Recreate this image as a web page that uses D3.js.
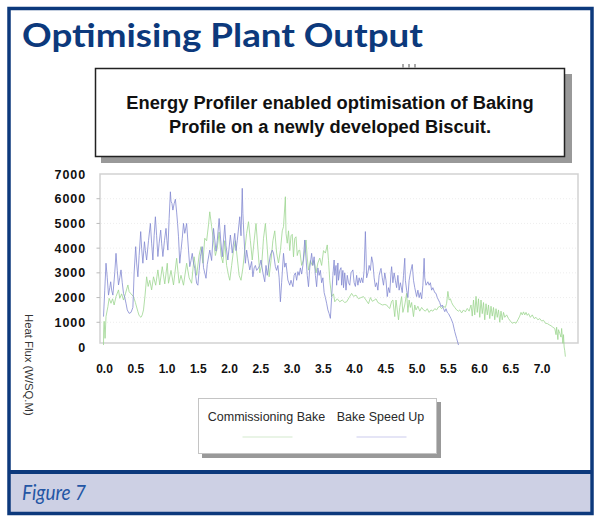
<!DOCTYPE html>
<html><head><meta charset="utf-8">
<script src="https://cdn.jsdelivr.net/npm/d3@7"></script>
<style>body{margin:0;background:#fff}svg{display:block}</style>
</head><body><svg id="c" width="600" height="522"></svg>
<script>
// ---------- data ----------
const titleText = "Optimising Plant Output";
const boxLines = ["Energy Profiler enabled optimisation of Baking", "Profile on a newly developed Biscuit."];
const yAxisTitle = "Heat Flux (W/SQ.M)";
const caption = "Figure 7";
const seriesNames = ["Commissioning Bake", "Bake Speed Up"];
const yTicks = [0, 1000, 2000, 3000, 4000, 5000, 6000, 7000];
const xTicks = [0, 0.5, 1, 1.5, 2, 2.5, 3, 3.5, 4, 4.5, 5, 5.5, 6, 6.5, 7];

// Commissioning Bake (green)
const commissioningX = [0,0.003,0.01,0.025,0.04,0.07,0.09,0.12,0.145,0.17,0.2,0.24,0.26,0.29,0.32,0.35,0.39,0.41,0.44,0.48,0.51,0.55,0.57,0.6,0.62,0.64,0.665,0.69,0.715,0.74,0.77,0.8,0.835,0.87,0.9,0.94,0.98,1.02,1.04,1.08,1.12,1.17,1.21,1.24,1.28,1.33,1.37,1.41,1.45,1.49,1.53,1.56,1.59,1.62,1.65,1.68,1.7,1.73,1.76,1.79,1.82,1.85,1.88,1.91,1.94,1.97,2,2.02,2.05,2.08,2.11,2.14,2.17,2.2,2.23,2.26,2.29,2.32,2.35,2.38,2.41,2.44,2.47,2.5,2.53,2.56,2.59,2.62,2.65,2.68,2.71,2.74,2.77,2.8,2.83,2.86,2.88,2.91,2.92,2.94,2.96,2.98,3,3.02,3.04,3.06,3.08,3.1,3.12,3.14,3.17,3.2,3.24,3.26,3.28,3.31,3.34,3.37,3.4,3.43,3.46,3.49,3.52,3.55,3.58,3.6,3.62,3.65,3.68,3.7,3.74,3.78,3.82,3.86,3.89,3.93,3.97,4,4.04,4.08,4.12,4.16,4.2,4.24,4.27,4.3,4.33,4.36,4.39,4.42,4.46,4.5,4.53,4.56,4.58,4.61,4.63,4.66,4.68,4.7,4.72,4.74,4.77,4.79,4.82,4.85,4.87,4.89,4.91,4.93,4.96,4.98,5,5.03,5.06,5.09,5.12,5.15,5.18,5.21,5.24,5.27,5.3,5.33,5.36,5.38,5.41,5.44,5.47,5.49,5.51,5.53,5.55,5.57,5.59,5.62,5.65,5.68,5.7,5.73,5.76,5.79,5.82,5.85,5.88,5.9,5.92,5.94,5.96,5.98,6,6.02,6.04,6.06,6.08,6.1,6.12,6.14,6.16,6.18,6.2,6.22,6.24,6.26,6.28,6.3,6.32,6.34,6.36,6.38,6.4,6.42,6.45,6.48,6.51,6.54,6.57,6.6,6.63,6.66,6.68,6.7,6.72,6.74,6.76,6.78,6.8,6.83,6.86,6.89,6.92,6.95,6.98,7.01,7.04,7.07,7.1,7.13,7.16,7.19,7.22,7.24,7.25,7.27,7.28,7.3,7.32,7.33,7.35,7.36,7.37,7.38,7.39];
const commissioningY = [80,690,1040,350,1230,1630,1970,1770,1950,1700,2040,2310,1970,2150,1900,2150,2510,2240,2150,2040,1800,1430,1270,1200,1300,1500,2100,2840,2450,2700,2310,2840,2500,3120,2510,3250,2550,3390,2580,3100,2510,3590,2580,2900,2500,3390,2800,2580,3650,2900,3720,4060,3390,4400,4300,4940,5470,4870,4300,3700,4000,4650,3700,3400,4300,3300,2900,2700,3300,3900,4300,3600,2900,2700,3200,3900,4600,5070,4300,3520,4300,5000,4000,3000,3300,4400,5000,4000,2840,3500,4300,4700,3800,3400,3900,4700,4870,6080,4600,4200,4700,3900,4500,4560,3650,4400,4460,3700,3900,3920,3300,3520,4330,3600,3110,3500,3300,3500,3000,3400,3600,3300,3900,3800,4130,3500,2700,2040,2150,1830,1950,1830,1900,1800,1830,2000,2170,2050,2100,1950,2000,2040,1900,1750,2000,1850,1890,1950,1800,1760,1700,1720,1700,1600,1560,1850,1900,1230,1900,1500,1100,1600,2040,1400,1700,2170,1400,1900,1600,1800,1230,1700,1500,1650,1450,1600,1500,1450,1550,1400,1500,1450,1550,1500,1620,1640,1550,1650,1600,1770,2250,1900,1950,1800,1700,1600,1500,1450,1500,1380,1500,1420,1560,1450,1700,1250,1900,1300,2050,1400,1950,1200,1900,1350,1800,1100,1750,1300,1700,1150,1650,1250,1600,1100,1550,1200,1500,1000,1450,1100,1400,1200,1300,1150,1050,960,1000,960,1100,1250,1400,1300,1420,1300,1400,1280,1350,1200,1300,1150,1200,1100,1150,1050,1080,960,950,900,860,800,750,500,800,300,700,550,400,750,150,500,0,-150,-390];

// Bake Speed Up (blue)
const speedUpX = [0,0.02,0.04,0.06,0.08,0.1,0.115,0.13,0.15,0.18,0.2,0.22,0.24,0.26,0.28,0.3,0.32,0.34,0.36,0.38,0.41,0.44,0.47,0.49,0.515,0.53,0.55,0.57,0.595,0.61,0.63,0.655,0.67,0.69,0.72,0.75,0.77,0.79,0.81,0.83,0.85,0.87,0.89,0.915,0.93,0.95,0.975,1,1.015,1.03,1.05,1.07,1.08,1.095,1.11,1.13,1.15,1.17,1.185,1.2,1.22,1.24,1.26,1.28,1.3,1.33,1.36,1.38,1.4,1.42,1.44,1.46,1.49,1.51,1.53,1.55,1.58,1.6,1.64,1.66,1.7,1.73,1.76,1.8,1.82,1.85,1.875,1.9,1.94,1.96,1.99,2.03,2.06,2.1,2.12,2.14,2.18,2.2,2.22,2.23,2.25,2.27,2.29,2.31,2.34,2.37,2.39,2.41,2.43,2.45,2.48,2.5,2.52,2.55,2.58,2.6,2.62,2.65,2.67,2.7,2.72,2.75,2.77,2.79,2.81,2.83,2.85,2.88,2.9,2.92,2.95,2.98,3,3.03,3.05,3.07,3.09,3.11,3.13,3.15,3.17,3.19,3.22,3.24,3.26,3.28,3.3,3.33,3.35,3.37,3.39,3.41,3.43,3.45,3.47,3.49,3.51,3.53,3.55,3.57,3.59,3.61,3.63,3.65,3.67,3.69,3.7,3.72,3.73,3.75,3.76,3.78,3.8,3.81,3.83,3.84,3.86,3.88,3.9,3.92,3.94,3.96,3.99,4.01,4.03,4.05,4.07,4.09,4.11,4.13,4.15,4.17,4.19,4.2,4.21,4.23,4.25,4.27,4.29,4.31,4.33,4.35,4.37,4.39,4.41,4.43,4.44,4.46,4.48,4.5,4.52,4.54,4.56,4.58,4.6,4.61,4.63,4.65,4.67,4.69,4.71,4.73,4.75,4.78,4.8,4.82,4.83,4.85,4.87,4.89,4.91,4.94,4.96,4.98,5.01,5.03,5.05,5.07,5.09,5.11,5.13,5.14,5.16,5.19,5.21,5.23,5.25,5.27,5.3,5.32,5.34,5.36,5.38,5.4,5.42,5.44,5.46,5.48,5.5,5.52,5.54,5.56,5.59,5.62,5.65,5.68];
const speedUpY = [1230,2300,3390,2800,2100,2400,2640,2300,2100,3000,3790,3100,2510,2800,3120,2600,2170,2000,1770,1500,1360,1400,1600,3000,4060,3400,2840,3700,4670,4000,3390,4260,3900,3520,4300,5000,4200,3520,4500,5270,4500,3660,4200,4730,4200,3660,4300,4800,4300,3920,5200,6280,5900,5810,5540,5800,5980,5460,5000,4460,3390,3900,4400,5000,4600,5000,3920,3250,3500,3790,3400,3190,2580,2500,3100,3650,4060,3210,2780,3340,3920,3500,4800,3880,4300,5200,4330,3650,4940,4100,3520,4530,3800,4600,3900,4300,5270,4500,6420,5410,4330,3390,3920,3590,3120,3460,2840,3200,3300,3100,3200,3300,3520,3000,2640,3300,2900,3400,3720,3920,3800,3250,3100,3300,2800,1830,2600,3790,3230,3400,2710,2500,2700,2440,2900,3000,2700,3050,2900,3200,2950,3300,4330,3600,2900,2440,3200,3790,3300,3650,2900,2440,3200,2900,3100,2600,2800,2200,2000,1770,1500,1350,1160,2000,2900,3520,2900,3300,2500,3400,2700,3100,3210,2500,3100,2400,3000,2300,2900,2600,2500,3000,3120,2600,2450,2900,2500,2800,2600,2800,2600,3100,4670,3800,2800,3000,3300,3100,3650,3400,2800,2440,2600,2300,2900,3100,3180,2800,2500,3000,2700,2040,2400,2200,3000,3250,2600,3000,2700,2400,2900,2300,2600,2200,2900,3590,2700,2300,2000,2700,3000,3340,2700,2400,2040,2300,2000,2200,1950,2500,3590,2800,2500,2640,2500,2600,2300,2400,2200,2170,2000,1900,1800,1630,1700,1550,1430,1550,1400,1350,1250,1150,960,620,350,80];

// ---------- drawing ----------
const svg = d3.select("#c");
const navy = "#0c397c";
const x = d3.scaleLinear().domain([0, 7]).range([103.5, 541]);
const y = d3.scaleLinear().domain([0, 7000]).range([347, 174]);

// outer frame + caption band
svg.append("rect").attr("x", 0).attr("y", 0).attr("width", 600).attr("height", 522).attr("fill", "#fff");
svg.append("rect").attr("x", 10).attr("y", 472).attr("width", 580).attr("height", 41).attr("fill", "#cdd0e4");
svg.append("line").attr("x1", 9).attr("x2", 592).attr("y1", 472).attr("y2", 472).attr("stroke", navy).attr("stroke-width", 4);
svg.append("rect").attr("x", 9).attr("y", 8.5).attr("width", 583).attr("height", 505)
  .attr("fill", "none").attr("stroke", navy).attr("stroke-width", 3.5);

// title
svg.append("text").attr("x", 22).attr("y", 47).text(titleText)
  .attr("font-family", "Lato, 'Open Sans', sans-serif").attr("font-weight", 700).attr("font-size", 33)
  .attr("fill", navy).attr("textLength", 401).attr("lengthAdjust", "spacingAndGlyphs");

// tiny marks above the box
[403, 409, 415].forEach(px => svg.append("line").attr("x1", px).attr("x2", px).attr("y1", 64).attr("y2", 67.5)
  .attr("stroke", "#555").attr("stroke-width", 1));

// text box
svg.append("rect").attr("x", 101).attr("y", 74).attr("width", 471).attr("height", 89).attr("fill", "#999");
svg.append("rect").attr("x", 95.5).attr("y", 68.5).attr("width", 469).attr("height", 88)
  .attr("fill", "#fff").attr("stroke", "#222").attr("stroke-width", 1.5);
svg.selectAll("text.box").data(boxLines).join("text").attr("class", "box")
  .attr("x", 330).attr("y", (d, i) => 108.5 + i * 24.5).attr("text-anchor", "middle")
  .attr("font-family", "Arial, 'Liberation Sans', sans-serif").attr("font-weight", 700).attr("font-size", 18.3)
  .attr("fill", "#111").text(d => d);

// plot frame and faint grid
const g = svg.append("g");
g.selectAll("line.grid").data(yTicks.filter(v => v > 0 && v < 7000)).join("line").attr("class", "grid")
  .attr("x1", 101).attr("x2", 577).attr("y1", d => y(d)).attr("y2", d => y(d))
  .attr("stroke", "#e8e8e8").attr("stroke-width", 0.8).attr("stroke-dasharray", "1,2");
g.append("rect").attr("x", 100).attr("y", 174).attr("width", 478).attr("height", 169)
  .attr("fill", "none").attr("stroke", "#d2d2d2").attr("stroke-width", 1.5);
g.selectAll("line.ytick").data(yTicks.filter(v => v > 0 && v < 7000)).join("line").attr("class", "ytick")
  .attr("x1", 96.5).attr("x2", 100).attr("y1", d => y(d)).attr("y2", d => y(d))
  .attr("stroke", "#bbb").attr("stroke-width", 1);

// y labels
g.selectAll("text.ylab").data(yTicks).join("text").attr("class", "ylab")
  .attr("x", 86).attr("y", d => y(d) + 4.5).attr("text-anchor", "end")
  .attr("font-family", "Arial, 'Liberation Sans', sans-serif").attr("font-weight", 700).attr("font-size", 12.5)
  .attr("letter-spacing", 0.9).attr("fill", "#111").text(d => d);

// x labels
g.selectAll("text.xlab").data(xTicks).join("text").attr("class", "xlab")
  .attr("x", d => x(d) + 1).attr("y", 372.5).attr("text-anchor", "middle")
  .attr("font-family", "Arial, 'Liberation Sans', sans-serif").attr("font-weight", 700).attr("font-size", 12)
  .attr("fill", "#111").text(d => d.toFixed(1));

// y axis title
svg.append("text").attr("transform", "translate(25,314) rotate(90)").text(yAxisTitle)
  .attr("font-family", "Arial, 'Liberation Sans', sans-serif").attr("font-size", 11.3).attr("fill", "#333");

// series
const line = d3.line().x(d => x(d[0])).y(d => y(d[1]));
const greenPts = commissioningX.map((v, i) => [v, commissioningY[i]]);
const bluePts = speedUpX.map((v, i) => [v, speedUpY[i]]);
g.append("path").attr("d", line(greenPts)).attr("fill", "none")
  .attr("stroke", "#9dd690").attr("stroke-width", 0.8).attr("stroke-linejoin", "round");
g.append("path").attr("d", line(bluePts)).attr("fill", "none")
  .attr("stroke", "#8288d0").attr("stroke-width", 0.8).attr("stroke-linejoin", "round");

// legend
const lg = svg.append("g");
lg.append("rect").attr("x", 202).attr("y", 402).attr("width", 239).attr("height", 56).attr("fill", "#999");
lg.append("rect").attr("x", 198.5).attr("y", 398.5).attr("width", 238).attr("height", 55)
  .attr("fill", "#fff").attr("stroke", "#c4c4c4").attr("stroke-width", 1);
const legX = [266.5, 380.5];
const legColors = ["#e2f1de", "#dcdcf3"];
lg.selectAll("text").data(seriesNames).join("text")
  .attr("x", (d, i) => legX[i]).attr("y", 421).attr("text-anchor", "middle")
  .attr("font-family", "Arial, 'Liberation Sans', sans-serif").attr("font-size", 12.5).attr("fill", "#2a2a2a").text(d => d);
lg.selectAll("line").data(seriesNames).join("line")
  .attr("x1", (d, i) => legX[i] - 24).attr("x2", (d, i) => legX[i] + 26).attr("y1", 437).attr("y2", 437)
  .attr("stroke", (d, i) => legColors[i]).attr("stroke-width", 1.5);

// caption
svg.append("text").attr("x", 22).attr("y", 500).text(caption)
  .attr("font-family", "Lato, 'Open Sans', sans-serif").attr("font-style", "italic").attr("font-weight", 400)
  .attr("font-size", 21).attr("fill", "#2456a4").attr("textLength", 64).attr("lengthAdjust", "spacingAndGlyphs");
</script></body></html>
